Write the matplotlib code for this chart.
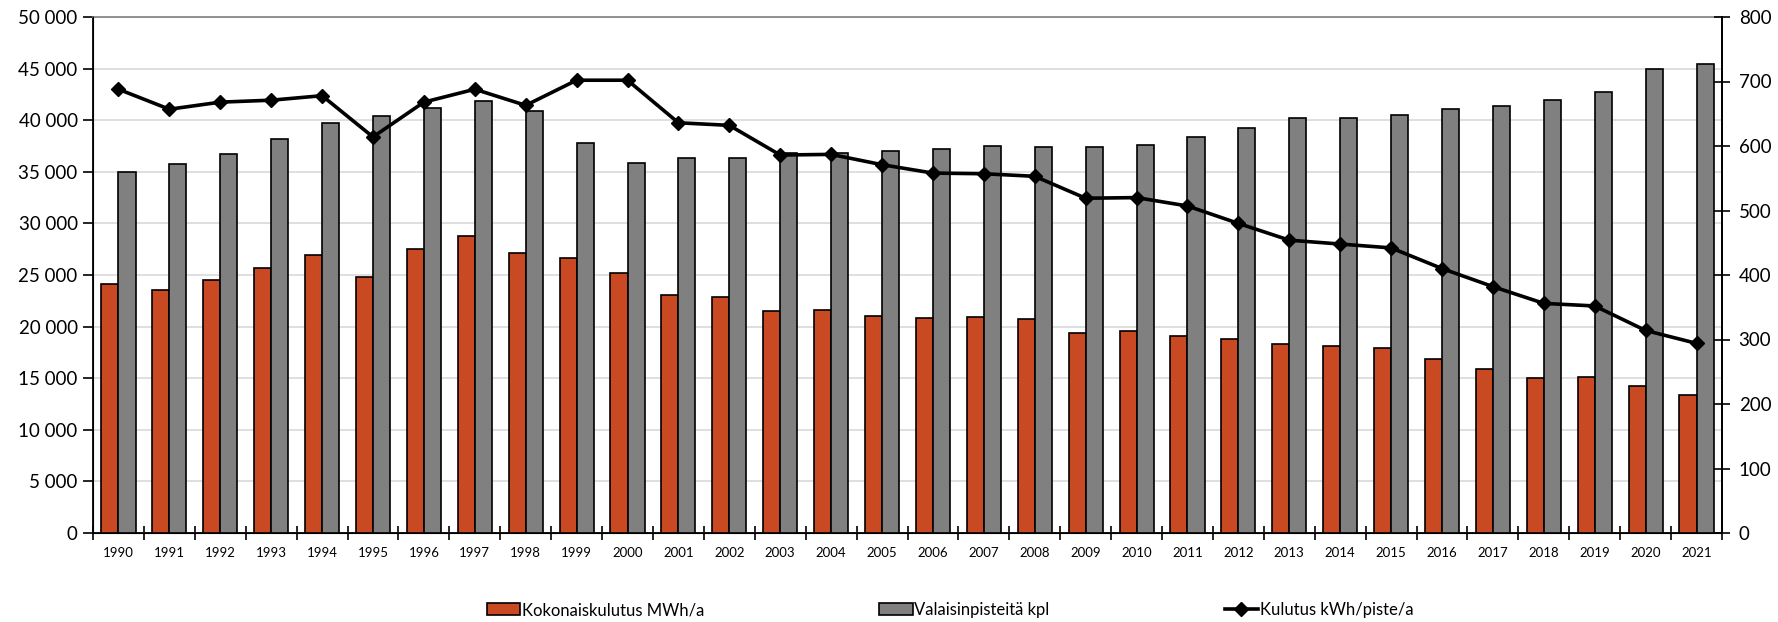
import matplotlib.pyplot as plt
import numpy as np

vuodet = list(range(1990, 2022))

kokonaiskulutus = [24100, 23500, 24500, 25700, 26900, 24800, 27500, 28800, 27100, 26600,
                   25200, 23100, 22900, 21550, 21600, 21050, 20800, 20900, 20700, 19400,
                   19550, 19050, 18800, 18300, 18100, 17950, 16850, 15900, 15000, 15100,
                   14200, 13350]
valaisinpisteet = [35000, 35800, 36700, 38200, 39700, 40400, 41200, 41850, 40900, 37800,
                   35900, 36300, 36300, 36850, 36850, 37000, 37200, 37500, 37450, 37450,
                   37550, 38400, 39200, 40200, 40200, 40500, 41100, 41350, 42000, 42750,
                   45000, 45400]
kulutus_per_piste = [688, 657, 668, 671, 678, 614, 668, 688, 663, 702,
                     702, 636, 632, 586, 587, 571, 558, 557, 553, 519,
                     520, 507, 480, 454, 448, 442, 410, 382, 356, 352,
                     314, 294]

punainen = "#C94A22"
harmaa = "#808080"

plt.rcParams['font.family'] = ['Lato', 'DejaVu Sans']

fig = plt.figure(figsize=(17.78, 6.22), dpi=100)
ax = fig.add_axes([93/1778, 1-533/622, (1722-93)/1778, (533-17)/622])

x = np.arange(len(vuodet))
w = 0.335
ax.bar(x - w/2, kokonaiskulutus, w, color=punainen, edgecolor="black", linewidth=1.2,
       label="Kokonaiskulutus MWh/a", zorder=3)
ax.bar(x + w/2, valaisinpisteet, w, color=harmaa, edgecolor="black", linewidth=1.2,
       label="Valaisinpisteitä kpl", zorder=3)

ax.set_xlim(-0.5, len(vuodet) - 0.5)
ax.set_ylim(0, 50000)
ax.set_yticks(np.arange(0, 50001, 5000))
ax.set_yticklabels([f"{v:,}".replace(",", " ") for v in range(0, 50001, 5000)], fontsize=13.5)
ax.set_xticks(x)
ax.set_xticklabels([str(v) for v in vuodet], fontsize=9.5)
ax.set_xticks(np.arange(-0.5, len(vuodet), 1), minor=True)
ax.tick_params(axis='x', which='major', length=0, pad=10)
ax.tick_params(axis='x', which='minor', length=10, direction='inout', width=1.2)
ax.tick_params(axis='y', length=7, width=1.2, direction='out', pad=4)
ax.grid(axis='y', color="#d9d9d9", linewidth=1.2, zorder=0)

for s in ['left', 'bottom', 'right']:
    ax.spines[s].set_color("black")
    ax.spines[s].set_linewidth(1.3)
ax.spines['top'].set_color("#808080")
ax.spines['top'].set_linewidth(1.2)

ax2 = ax.twinx()
ax2.plot(x, kulutus_per_piste, color="black", linewidth=2.6, marker="D", markersize=7.5,
         label="Kulutus kWh/piste/a", zorder=4)
ax2.set_ylim(0, 800)
ax2.set_yticks(np.arange(0, 801, 100))
ax2.tick_params(axis='y', length=12, width=1.2, direction='inout', labelsize=13.5, pad=6)
ax2.spines['right'].set_linewidth(1.3)
ax2.spines['top'].set_visible(False)

handles = ax.get_legend_handles_labels()[0] + ax2.get_legend_handles_labels()[0]
labels = ax.get_legend_handles_labels()[1] + ax2.get_legend_handles_labels()[1]
fig.legend(handles, labels, loc='center', bbox_to_anchor=(950/1778, 1-610/622), ncol=3,
           frameon=False, columnspacing=10.5, handlelength=2.0, handletextpad=0.1,
           prop={'size': 12})

fig.savefig("out.png", dpi=100)
